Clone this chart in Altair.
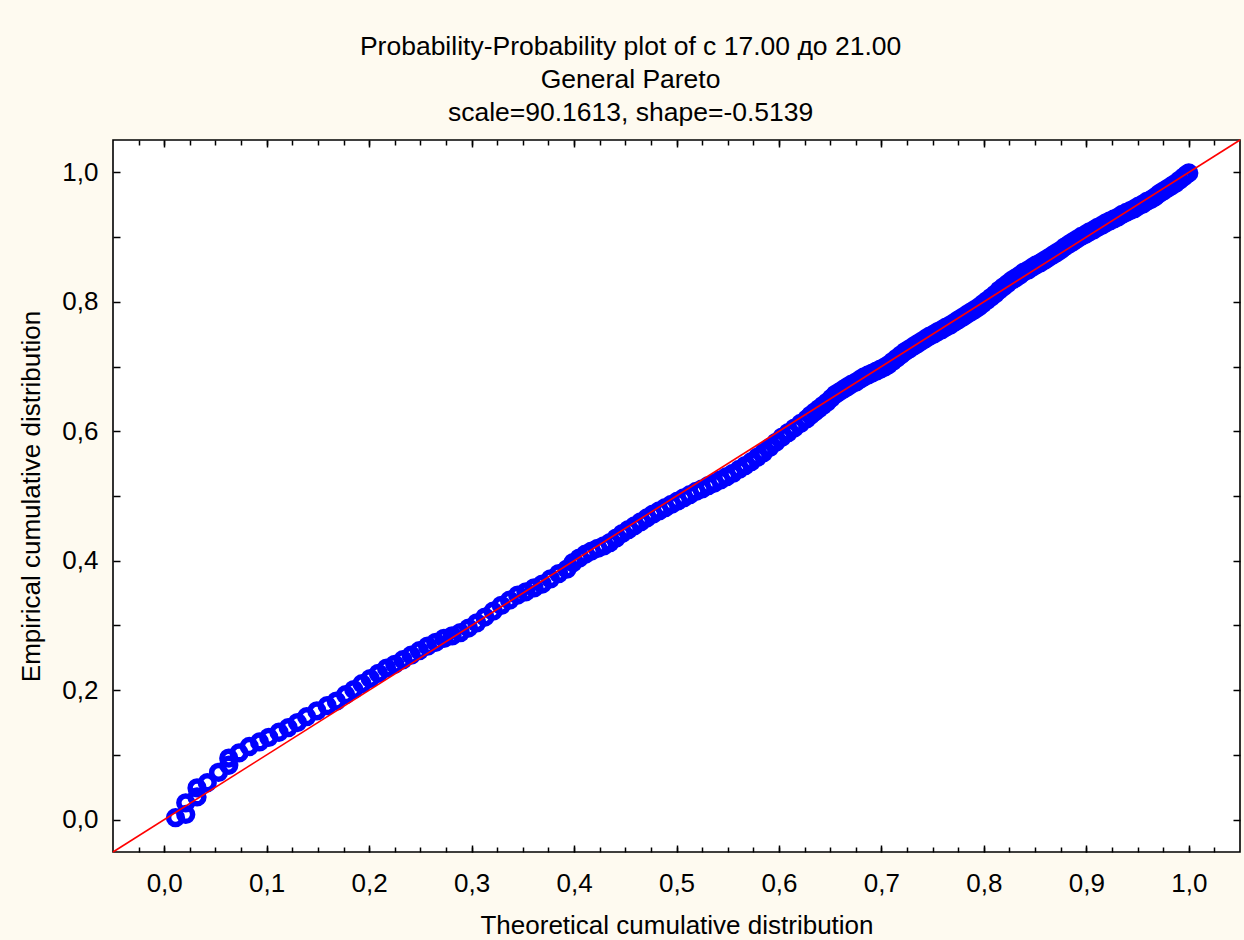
import altair as alt
import pandas as pd

# ---- data ----
theoretical = [
    0.011, 0.021, 0.021, 0.032, 0.032, 0.042, 0.053, 0.063, 0.063, 0.073,
    0.083, 0.093, 0.102, 0.112, 0.121, 0.130, 0.139, 0.149, 0.159, 0.168,
    0.177, 0.185, 0.193, 0.201, 0.209, 0.217, 0.225, 0.233, 0.241, 0.249,
    0.257, 0.265, 0.273, 0.281, 0.289, 0.297, 0.305, 0.313, 0.321, 0.329,
    0.337, 0.345, 0.353, 0.361, 0.369, 0.377, 0.385, 0.393,
    0.399, 0.405, 0.411, 0.417, 0.423, 0.429, 0.435, 0.441, 0.447, 0.453,
    0.459, 0.465, 0.471, 0.477, 0.483, 0.489, 0.495, 0.501, 0.507, 0.513,
    0.519, 0.525, 0.531, 0.537, 0.543, 0.549, 0.555, 0.561, 0.567, 0.573,
    0.579, 0.585, 0.591, 0.597, 0.603, 0.609, 0.615, 0.621, 0.627,
    0.631, 0.635, 0.639, 0.643, 0.647, 0.651, 0.655, 0.659, 0.663, 0.667,
    0.671, 0.675, 0.679, 0.683, 0.687, 0.691, 0.695, 0.699, 0.703, 0.707,
    0.711, 0.715, 0.719, 0.723, 0.727, 0.731, 0.735, 0.739, 0.743, 0.747,
    0.751, 0.755, 0.759, 0.763, 0.767, 0.771, 0.775, 0.779, 0.783, 0.787,
    0.791, 0.795, 0.799, 0.803, 0.807, 0.811, 0.815, 0.819, 0.823, 0.827,
    0.831, 0.835, 0.839, 0.843, 0.847, 0.851, 0.855, 0.859, 0.863, 0.867,
    0.871, 0.875, 0.879, 0.883, 0.887, 0.891, 0.895, 0.899, 0.903, 0.907,
    0.911, 0.915, 0.919, 0.923, 0.927, 0.931, 0.935, 0.939, 0.943, 0.947,
    0.951, 0.955, 0.959, 0.963, 0.967, 0.971, 0.975, 0.979, 0.983, 0.987,
    0.991, 0.995, 0.998, 1.000,
]
empirical = [
    0.003, 0.008, 0.026, 0.035, 0.049, 0.057, 0.073, 0.084, 0.095, 0.103,
    0.113, 0.120, 0.127, 0.135, 0.142, 0.150, 0.159, 0.168, 0.176, 0.183,
    0.193, 0.201, 0.210, 0.218, 0.226, 0.234, 0.240, 0.247, 0.254, 0.261,
    0.268, 0.274, 0.280, 0.284, 0.289, 0.296, 0.304, 0.313, 0.322, 0.331,
    0.339, 0.347, 0.352, 0.358, 0.364, 0.372, 0.380, 0.387,
    0.397, 0.404, 0.410, 0.415, 0.419, 0.423, 0.428, 0.435, 0.442, 0.448,
    0.454, 0.460, 0.466, 0.472, 0.477, 0.482, 0.487, 0.492, 0.497, 0.502,
    0.507, 0.511, 0.516, 0.520, 0.525, 0.530, 0.535, 0.541, 0.547, 0.553,
    0.560, 0.567, 0.575, 0.583, 0.591, 0.598, 0.605, 0.612, 0.619,
    0.625, 0.630, 0.635, 0.640, 0.645, 0.651, 0.657, 0.661, 0.665, 0.669,
    0.673, 0.676, 0.680, 0.684, 0.687, 0.690, 0.693, 0.696, 0.699, 0.703,
    0.708, 0.713, 0.718, 0.723, 0.727, 0.731, 0.735, 0.739, 0.743, 0.747,
    0.750, 0.754, 0.757, 0.761, 0.764, 0.768, 0.772, 0.776, 0.780, 0.784,
    0.788, 0.792, 0.797, 0.802, 0.807, 0.812, 0.818, 0.823, 0.828, 0.833,
    0.837, 0.841, 0.846, 0.849, 0.853, 0.857, 0.860, 0.864, 0.868, 0.872,
    0.876, 0.880, 0.885, 0.889, 0.893, 0.897, 0.901, 0.904, 0.908, 0.911,
    0.915, 0.918, 0.922, 0.925, 0.928, 0.931, 0.935, 0.938, 0.941, 0.944,
    0.948, 0.951, 0.955, 0.958, 0.962, 0.967, 0.971, 0.975, 0.979, 0.983,
    0.988, 0.993, 0.997, 0.999,
]

# reference diagonal y = x
diag_x = [-0.05, 1.05]
diag_y = [-0.05, 1.05]

# axis tick positions
x_major = [0.0, 0.1, 0.2, 0.3, 0.4, 0.5, 0.6, 0.7, 0.8, 0.9, 1.0]
x_minor = [round(-0.025 + 0.025 * i, 3) for i in range(43)]
y_ticks = [0.0, 0.1, 0.2, 0.3, 0.4, 0.5, 0.6, 0.7, 0.8, 0.9, 1.0]
y_labels = [0.0, 0.2, 0.4, 0.6, 0.8, 1.0]

title_lines = [
    "Probability-Probability plot of с 17.00 до 21.00",
    "General Pareto",
    "scale=90.1613, shape=-0.5139",
]
x_title = "Theoretical cumulative distribution"
y_title = "Empirical cumulative distribution"

FONT = "Liberation Sans"
FS = 26
pts = pd.DataFrame({"x": theoretical, "y": empirical})
diag = pd.DataFrame({"x": diag_x, "y": diag_y})

sx = alt.Scale(domain=[-0.05, 1.05], nice=False, zero=False)
sy = alt.Scale(domain=[-0.05, 1.05], nice=False, zero=False)
label_expr = "replace(format(datum.value, '.1f'), '.', ',')"


def tick_axis(orient, values, size):
    return alt.Axis(
        orient=orient, values=values, tickSize=size, offset=-size,
        labels=False, domain=False, grid=False, title=None,
        tickColor="black", tickWidth=1.5,
    )


points = alt.Chart(pts).mark_point(
    shape="circle", filled=False, color="#0000FF", strokeWidth=5.5, size=190, opacity=1
).encode(
    x=alt.X("x:Q", scale=sx, axis=alt.Axis(
        orient="bottom", values=x_major, ticks=False, domain=False, grid=False,
        labelExpr=label_expr, labelFontSize=FS, labelPadding=18, labelFont=FONT,
        labelColor="black", title=x_title, titleFontSize=FS, titleFont=FONT,
        titleFontWeight="normal", titleColor="black", titleY=73,
        titleBaseline="middle",
    )),
    y=alt.Y("y:Q", scale=sy, axis=alt.Axis(
        orient="left", values=y_labels, ticks=False, domain=False, grid=False,
        labelExpr=label_expr, labelFontSize=FS, labelPadding=15, labelFont=FONT,
        labelColor="black", title=y_title, titleFontSize=FS, titleFont=FONT,
        titleFontWeight="normal", titleColor="black", titleX=-82,
        titleBaseline="middle",
    )),
)

line = alt.Chart(diag).mark_line(color="#FF0000", strokeWidth=1.6).encode(
    x=alt.X("x:Q", scale=sx, axis=tick_axis("bottom", x_minor, 5)),
    y=alt.Y("y:Q", scale=sy, axis=tick_axis("left", y_ticks, 7)),
)

ghost3 = alt.Chart(diag).mark_line(opacity=0).encode(
    x=alt.X("x:Q", scale=sx, axis=tick_axis("bottom", x_major, 7)),
    y=alt.Y("y:Q", scale=sy, axis=tick_axis("right", y_ticks, 7)),
)
ghost4 = alt.Chart(diag).mark_line(opacity=0).encode(
    x=alt.X("x:Q", scale=sx, axis=tick_axis("top", x_minor, 5)),
    y=alt.Y("y:Q", scale=sy, axis=None),
)
ghost5 = alt.Chart(diag).mark_line(opacity=0).encode(
    x=alt.X("x:Q", scale=sx, axis=tick_axis("top", x_major, 7)),
    y=alt.Y("y:Q", scale=sy, axis=None),
)

chart = alt.layer(points, line, ghost3, ghost4, ghost5).resolve_axis(
    x="independent", y="independent"
).properties(
    width=1127,
    height=712,
    padding={"left": 113, "top": 140, "right": 4, "bottom": 88},
    autosize=alt.AutoSizeParams(type="none"),
    background="#FEFAF0",
    title=alt.TitleParams(
        text=title_lines, fontSize=26.5, font=FONT, fontWeight="normal",
        color="black", anchor="middle", frame="bounds", lineHeight=33, offset=10,
    ),
).configure_view(
    stroke="black", strokeWidth=1.6, fill="white"
)

chart.save("out.html", embed_options={"renderer": "svg", "actions": False})
